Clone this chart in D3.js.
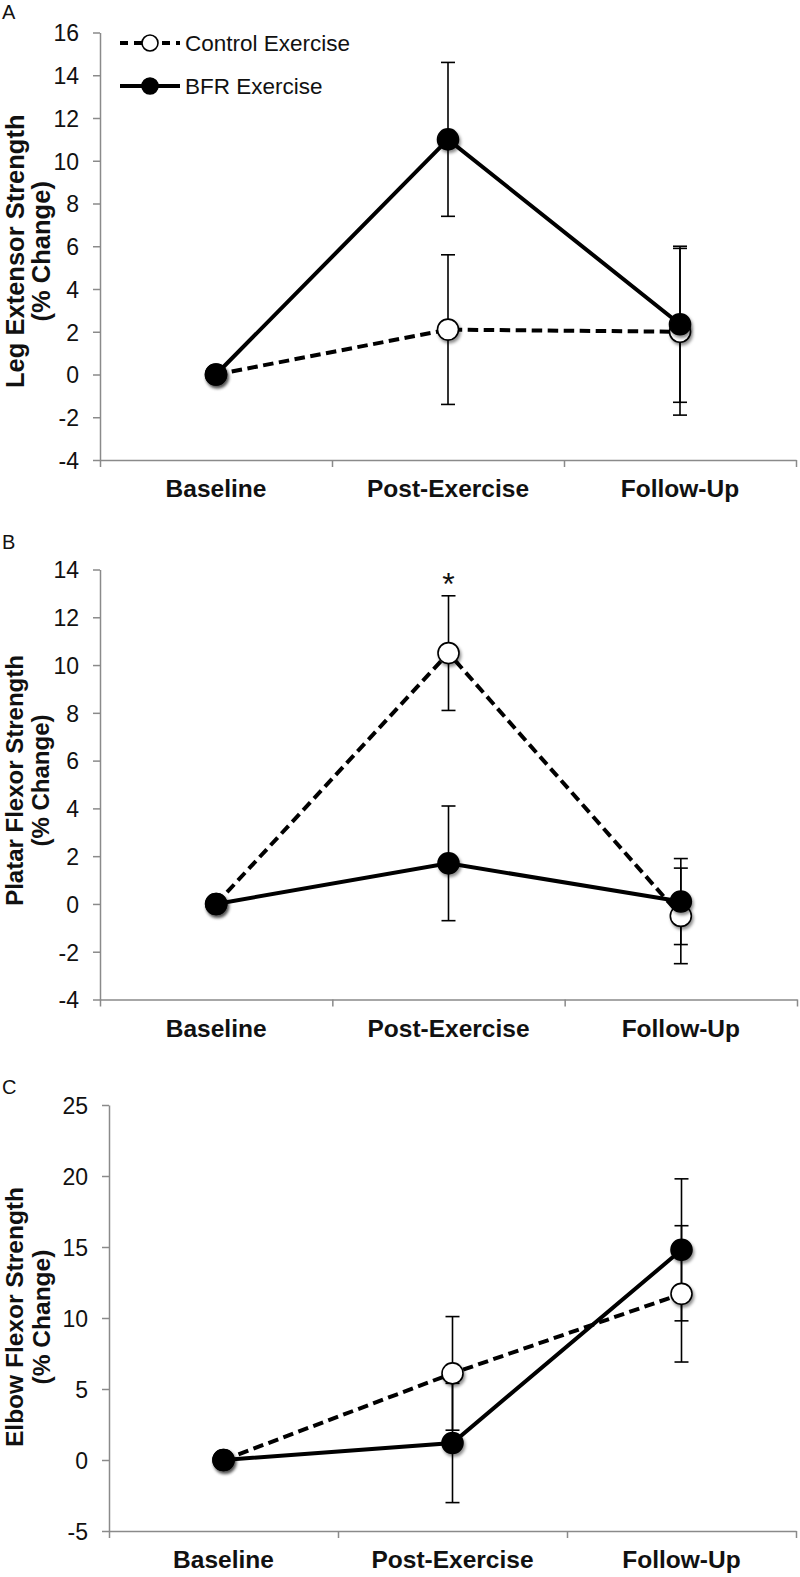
<!DOCTYPE html>
<html>
<head>
<meta charset="utf-8">
<script src="https://cdn.jsdelivr.net/npm/d3@7"></script>
<style>
  html, body { margin: 0; padding: 0; background: #fff; }
  svg { display: block; font-family: "Liberation Sans", Arial, sans-serif; }
</style>
</head>
<body>
<svg id="chart" width="800" height="1577"></svg>
<script>
// ---------------- data ----------------
const categories = ["Baseline", "Post-Exercise", "Follow-Up"];
const seriesNames = ["Control Exercise", "BFR Exercise"];

const legControl = [0, 2.1, 2.0];
const legControlErr = [0, 3.5, 3.9];
const legBFR = [0, 11.0, 2.35];
const legBFRErr = [0, 3.6, 3.65];
const legTicks = [-4, -2, 0, 2, 4, 6, 8, 10, 12, 14, 16];

const plantarControl = [0, 10.5, -0.5];
const plantarControlErr = [0, 2.4, 2.0];
const plantarBFR = [0, 1.7, 0.1];
const plantarBFRErr = [0, 2.4, 1.8];
const plantarTicks = [-4, -2, 0, 2, 4, 6, 8, 10, 12, 14];

const elbowControl = [0, 6.1, 11.7];
const elbowControlErr = [0, 4.0, 4.8];
const elbowBFR = [0, 1.2, 14.8];
const elbowBFRErr = [0, 4.2, 5.0];
const elbowTicks = [-5, 0, 5, 10, 15, 20, 25];

// --------------- layout ---------------
const panels = [
  { letter: "A", title: ["Leg Extensor Strength", "(% Change)"], titleSize: 25.5,
    control: legControl, controlErr: legControlErr, bfr: legBFR, bfrErr: legBFRErr,
    ticks: legTicks, x0: 100, x1: 796, yTop: 32.5, yBot: 460, letterY: 19,
    titleX: [23.5, 50], titleShift: 5, legend: true, star: null },
  { letter: "B", title: ["Platar Flexor Strength", "(% Change)"], titleSize: 24,
    control: plantarControl, controlErr: plantarControlErr, bfr: plantarBFR, bfrErr: plantarBFRErr,
    ticks: plantarTicks, x0: 100, x1: 797, yTop: 569.5, yBot: 999.5, letterY: 549,
    titleX: [22.5, 49], titleShift: -4, legend: false, star: 1 },
  { letter: "C", title: ["Elbow Flexor Strength", "(% Change)"], titleSize: 24.5,
    control: elbowControl, controlErr: elbowControlErr, bfr: elbowBFR, bfrErr: elbowBFRErr,
    ticks: elbowTicks, x0: 109, x1: 796, yTop: 1105, yBot: 1531, letterY: 1094,
    titleX: [23, 50], titleShift: -1, legend: false, star: null }
];

const svg = d3.select("#chart");
const defs = svg.append("defs");
const f = defs.append("filter").attr("id", "shadow")
  .attr("x", "-50%").attr("y", "-50%").attr("width", "200%").attr("height", "200%");
f.append("feDropShadow").attr("dx", 1.5).attr("dy", 2.5).attr("stdDeviation", 1.6)
  .attr("flood-color", "#000").attr("flood-opacity", 0.45);

const axisColor = "#8a8a8a";
const dash = "10.5,5.5";
const R = 10.5;

panels.forEach(p => {
  const g = svg.append("g");
  const y = d3.scaleLinear().domain([p.ticks[0], p.ticks[p.ticks.length - 1]]).range([p.yBot, p.yTop]);
  const xb = d3.scaleBand().domain(categories).range([p.x0, p.x1]).padding(0);
  const xl = d3.scaleLinear().domain([0, 3]).range([p.x0, p.x1]);
  const cx = c => xb(c) + xb.bandwidth() / 2;

  // panel letter
  g.append("text").attr("x", 2).attr("y", p.letterY).attr("font-size", 20)
    .attr("fill", "#111").text(p.letter);

  // y axis
  const ya = g.append("g").attr("transform", `translate(${p.x0},0)`)
    .call(d3.axisLeft(y).tickValues(p.ticks).tickSize(7).tickSizeOuter(0).tickPadding(14)
      .tickFormat(d => String(d)));
  ya.select(".domain").attr("stroke", axisColor).attr("stroke-width", 1.5);
  ya.selectAll(".tick line").attr("stroke", axisColor).attr("stroke-width", 1.5);
  ya.selectAll(".tick text").attr("font-size", 23).attr("fill", "#111")
    .attr("font-family", "'Liberation Sans', Arial, sans-serif").attr("dy", "0.36em");

  // x axis
  const xa = g.append("g").attr("transform", `translate(0,${p.yBot})`)
    .call(d3.axisBottom(xl).tickValues([0, 1, 2, 3]).tickSize(7).tickSizeOuter(0).tickFormat(""));
  xa.select(".domain").attr("stroke", axisColor).attr("stroke-width", 1.5);
  xa.selectAll(".tick line").attr("stroke", axisColor).attr("stroke-width", 1.5);

  // category labels
  g.selectAll(".cat").data(categories).enter().append("text")
    .attr("x", d => cx(d)).attr("y", p.yBot + 37)
    .attr("text-anchor", "middle").attr("font-size", 24.5).attr("font-weight", "bold")
    .attr("fill", "#111").text(d => d);

  // y title
  const midY = (p.yTop + p.yBot) / 2 + p.titleShift;
  p.title.forEach((t, i) => {
    g.append("text")
      .attr("transform", `translate(${p.titleX[i]},${midY}) rotate(-90)`)
      .attr("text-anchor", "middle").attr("font-size", p.titleSize).attr("font-weight", "bold")
      .attr("fill", "#111").text(t);
  });

  const series = [
    { vals: p.control, err: p.controlErr, fill: "#fff", dashed: true },
    { vals: p.bfr, err: p.bfrErr, fill: "#000", dashed: false }
  ];

  const line = d3.line().x((d, i) => cx(categories[i])).y(d => y(d));

  // lines
  series.forEach(s => {
    g.append("path").datum(s.vals).attr("d", line)
      .attr("fill", "none").attr("stroke", "#000").attr("stroke-width", 4)
      .attr("stroke-dasharray", s.dashed ? dash : null);
  });

  // error bars
  series.forEach(s => {
    s.vals.forEach((v, i) => {
      const e = s.err[i];
      if (!e) return;
      const x = cx(categories[i]);
      g.append("line").attr("x1", x).attr("x2", x).attr("y1", y(v - e)).attr("y2", y(v + e))
        .attr("stroke", "#000").attr("stroke-width", 1.6);
      [v - e, v + e].forEach(yy => {
        g.append("line").attr("x1", x - 7).attr("x2", x + 7).attr("y1", y(yy)).attr("y2", y(yy))
          .attr("stroke", "#000").attr("stroke-width", 1.6);
      });
    });
  });

  // markers
  series.forEach(s => {
    g.selectAll(null).data(s.vals).enter().append("circle")
      .attr("cx", (d, i) => cx(categories[i])).attr("cy", d => y(d)).attr("r", R)
      .attr("fill", s.fill).attr("stroke", "#000").attr("stroke-width", 1.6)
      .attr("filter", "url(#shadow)");
  });

  // significance star
  if (p.star !== null) {
    g.append("text").attr("x", cx(categories[p.star]))
      .attr("y", y(p.control[p.star] + p.controlErr[p.star]) - 1)
      .attr("text-anchor", "middle").attr("font-size", 32).attr("fill", "#111").text("*");
  }

  // legend
  if (p.legend) {
    const ly = [43, 86];
    series.forEach((s, i) => {
      g.append("line").attr("x1", 120).attr("x2", 180).attr("y1", ly[i]).attr("y2", ly[i])
        .attr("stroke", "#000").attr("stroke-width", 4)
        .attr("stroke-dasharray", s.dashed ? "8,6" : null);
      g.append("circle").attr("cx", 150).attr("cy", ly[i]).attr("r", 8)
        .attr("fill", s.fill).attr("stroke", "#000").attr("stroke-width", 1.6);
      g.append("text").attr("x", 185).attr("y", ly[i]).attr("dy", "0.36em")
        .attr("font-size", 22.5).attr("fill", "#111").text(seriesNames[i]);
    });
  }
});
</script>
</body>
</html>
